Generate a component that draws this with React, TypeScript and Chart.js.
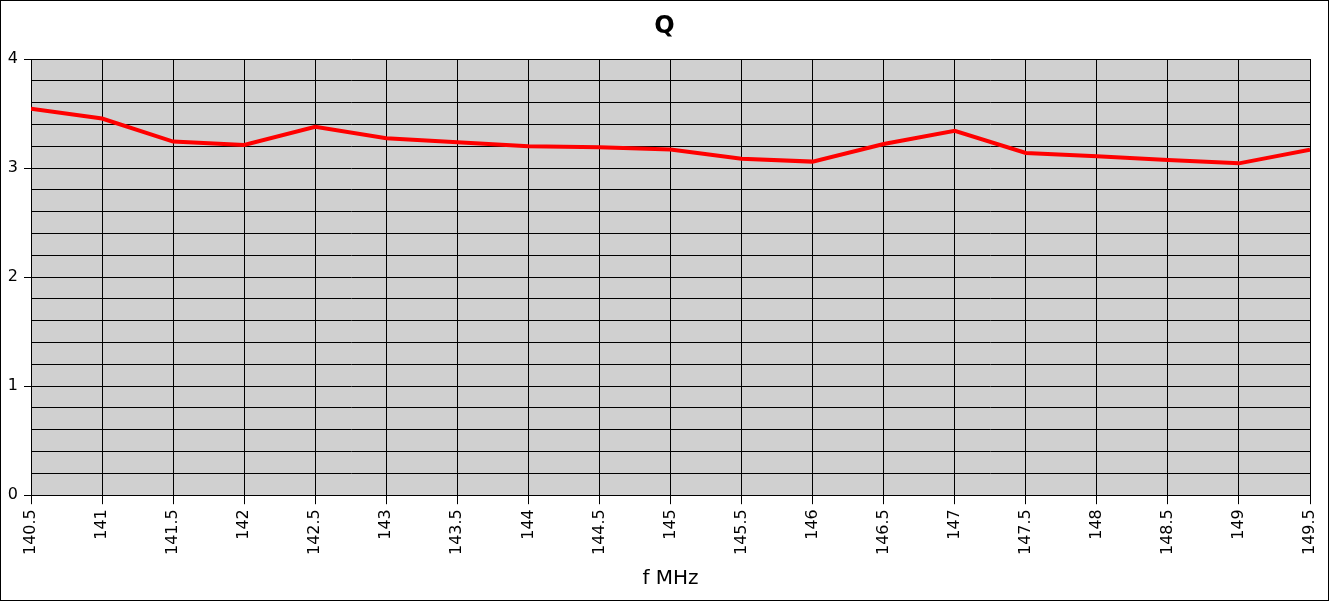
import React, { useEffect, useRef } from "react";
import { Chart, registerables } from "chart.js";

Chart.register(...registerables);

const frequencies = [140.5, 141, 141.5, 142, 142.5, 143, 143.5, 144, 144.5, 145, 145.5, 146, 146.5, 147, 147.5, 148, 148.5, 149, 149.5];
const qValues = [3.544, 3.454, 3.243, 3.212, 3.378, 3.273, 3.237, 3.2, 3.19, 3.169, 3.086, 3.059, 3.221, 3.341, 3.139, 3.108, 3.074, 3.043, 3.169];
const chartTitle = "Q";
const xAxisTitle = "f MHz";

const FONT = "'DejaVu Sans', sans-serif";

const isInt = (v: number) => Math.abs(v - Math.round(v)) < 1e-6;

const plotBg = {
  id: "plotBg",
  beforeDraw(chart: any) {
    const { ctx, chartArea } = chart;
    ctx.save();
    ctx.fillStyle = "#d0d0d0";
    ctx.fillRect(chartArea.left, chartArea.top, chartArea.right - chartArea.left, chartArea.bottom - chartArea.top);
    ctx.restore();
  },
  afterDraw(chart: any) {
    const { ctx, width, height } = chart;
    ctx.save();
    ctx.strokeStyle = "#000";
    ctx.lineWidth = 1;
    ctx.strokeRect(0.5, 0.5, width - 1, height - 1);
    ctx.restore();
  },
};

export default function App() {
  const ref = useRef<HTMLCanvasElement | null>(null);
  useEffect(() => {
    if (!ref.current) return;
    const chart = new Chart(ref.current, {
      type: "line",
      data: {
        datasets: [
          {
            data: frequencies.map((f, i) => ({ x: f, y: qValues[i] })),
            borderColor: "#ff0000",
            borderWidth: 4,
            pointRadius: 0,
            tension: 0,
            fill: false,
          },
        ],
      },
      options: {
        animation: false,
        responsive: false,
        maintainAspectRatio: false,
        layout: { padding: { top: 0, left: 0, right: 0, bottom: 10 } },
        plugins: {
          legend: { display: false },
          tooltip: { enabled: false },
          title: {
            display: true,
            text: chartTitle,
            color: "#000",
            font: { family: FONT, size: 24, weight: "bold" },
            padding: { top: 12.5, bottom: 17.7 },
          },
        },
        scales: {
          x: {
            type: "linear",
            min: 140.5,
            max: 149.5,
            border: { color: "#000", width: 1 },
            grid: { color: "#000", lineWidth: 1, tickLength: 9, tickColor: "#000" },
            afterFit: (scale: any) => {
              scale.paddingRight = 19;
              scale.paddingLeft = 0;
            },
            ticks: {
              stepSize: 0.5,
              autoSkip: false,
              maxRotation: 90,
              minRotation: 90,
              padding: 5,
              color: "#000",
              font: { family: FONT, size: 16 },
              callback: (v: any) => String(v),
            },
            title: {
              display: true,
              text: xAxisTitle,
              color: "#000",
              font: { family: FONT, size: 20 },
              padding: { top: 7, bottom: 0 },
            },
          },
          y: {
            type: "linear",
            min: 0,
            max: 4,
            border: { color: "#000", width: 1 },
            grid: {
              color: "#000",
              lineWidth: 1,
              tickLength: 7,
              tickColor: (ctx: any) => (ctx.tick && isInt(ctx.tick.value) ? "#000" : "rgba(0,0,0,0)"),
            },
            afterFit: (scale: any) => {
              scale.width = 31;
            },
            ticks: {
              stepSize: 0.2,
              autoSkip: false,
              padding: 6,
              color: "#000",
              font: { family: FONT, size: 16 },
              callback: (v: any) => (isInt(Number(v)) ? String(Math.round(Number(v))) : ""),
            },
          },
        },
      },
      plugins: [plotBg],
    });
    return () => chart.destroy();
  }, []);
  return (
    <div style={{ position: "absolute", left: 0, top: 0, width: 1329, height: 601 }}>
      <canvas ref={ref} width={1329} height={601} style={{ display: "block", width: 1329, height: 601 }} />
    </div>
  );
}
